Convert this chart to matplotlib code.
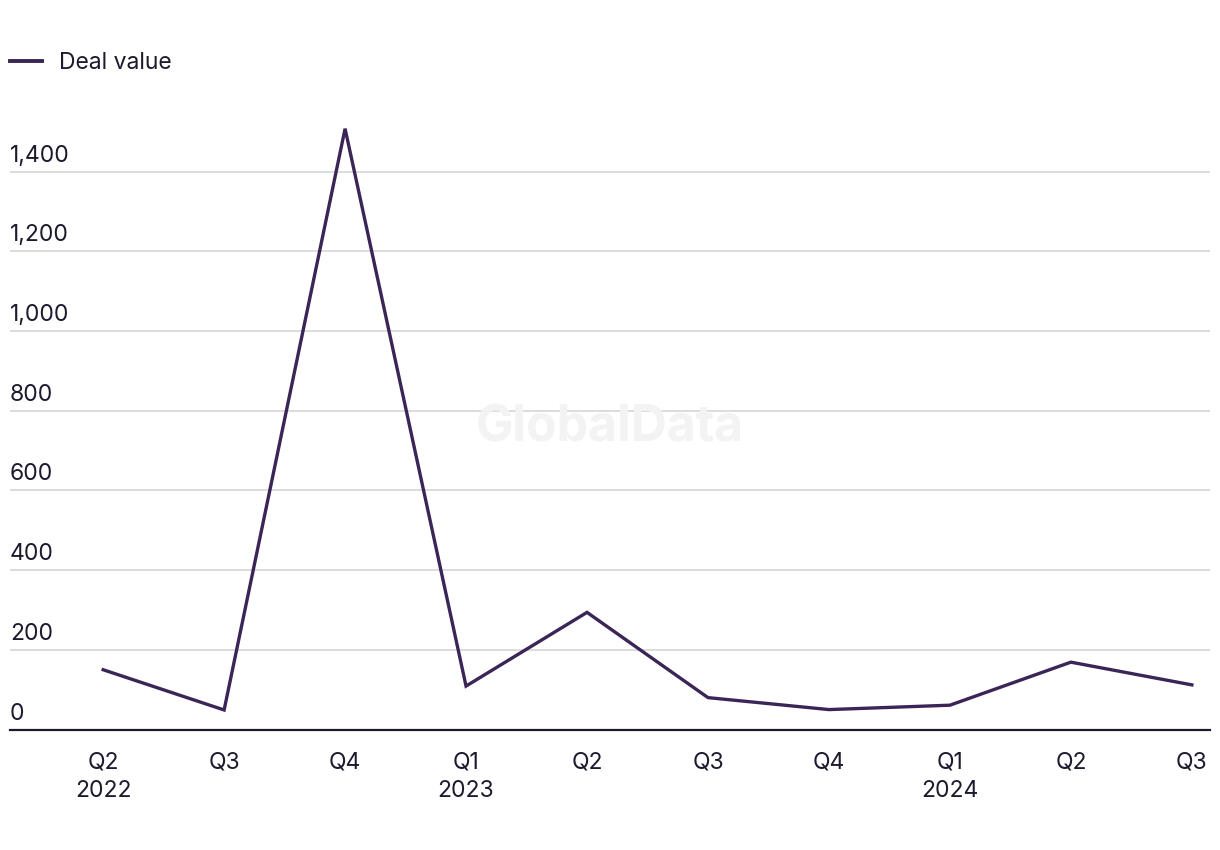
import matplotlib
matplotlib.use("Agg")
import matplotlib.pyplot as plt
import matplotlib.transforms as mtransforms

quarters = ["Q2\n2022", "Q3", "Q4", "Q1\n2023", "Q2", "Q3", "Q4", "Q1\n2024", "Q2", "Q3"]
deal_value = [150, 49, 1508, 109, 294, 80, 50, 61, 169, 112]
y_ticks = [0, 200, 400, 600, 800, 1000, 1200, 1400]
series_name = "Deal value"

plt.rcParams['font.family'] = ['Inter', 'DejaVu Sans']
text_color = "#1c1b2e"
line_color = "#3a2556"
grid_color = "#d9d9d9"

fig = plt.figure(figsize=(12.2, 8.5), dpi=100)
ax = fig.add_axes([10/1220, (850-729.5)/850, 1200/1220, (729.5-100)/850])

x = list(range(len(quarters)))
ax.plot(x, deal_value, color=line_color, linewidth=2.4, solid_joinstyle='miter', label=series_name, zorder=3)

ax.set_xlim(-0.77, len(quarters) - 1 + 0.15)
ax.set_ylim(0, 1580)

for s in ["top", "right", "left"]:
    ax.spines[s].set_visible(False)
ax.spines["bottom"].set_color(text_color)
ax.spines["bottom"].set_linewidth(1.6)
ax.spines["bottom"].set_zorder(4)

ax.set_yticks(y_ticks)
ax.yaxis.grid(True, color=grid_color, linewidth=1.3)
ax.set_axisbelow(True)
ax.tick_params(axis='y', length=0, labelleft=False)

offset = mtransforms.offset_copy(ax.get_yaxis_transform(), fig=fig, x=0, y=5, units='dots')
for v in y_ticks:
    ax.text(0, v, f"{v:,}", transform=offset, ha='left', va='bottom',
            fontsize=16.5, color=text_color)

ax.set_xticks(x)
ax.set_xticklabels(quarters, fontsize=16.5, color=text_color, linespacing=1.35)
ax.tick_params(axis='x', length=0, pad=16)

fig.text(0.5, (850-428)/850, "GlobalData", ha='center', va='center', fontsize=36,
         fontweight='bold', color='#f3f3f3', zorder=0)

leg = ax.legend(loc='center left', bbox_to_anchor=(10/1220, (850-63)/850), bbox_transform=fig.transFigure,
                frameon=False, fontsize=16.5, handlelength=1.4, handletextpad=0.75,
                borderaxespad=0, borderpad=0)
for t in leg.get_texts():
    t.set_color(text_color)
for h in leg.get_lines():
    h.set_linewidth(2.8)

fig.savefig("out.png", dpi=100, facecolor="white")
